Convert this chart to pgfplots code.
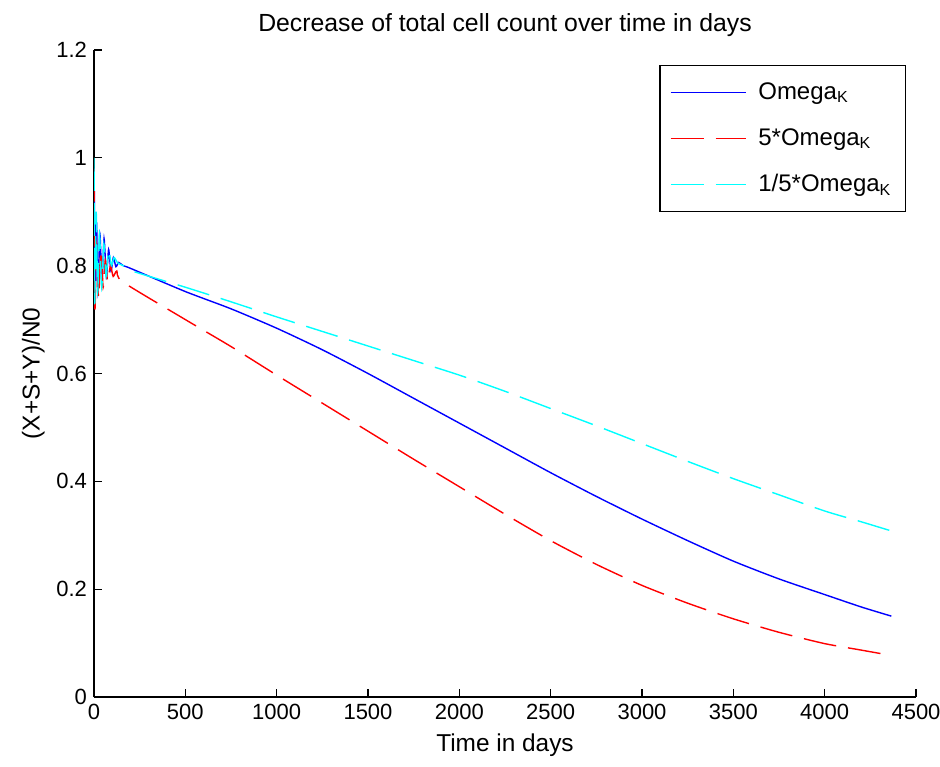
\documentclass[border=0pt]{standalone}
\usepackage{pgfplots}
\pgfplotsset{compat=1.18}
\usepackage{fontspec}
\setmainfont{Liberation Sans}
\definecolor{mblue}{rgb}{0,0,1}
\definecolor{mred}{rgb}{1,0,0}
\definecolor{mcyan}{rgb}{0,1,1}
\begin{document}
\begin{tikzpicture}
\path[use as bounding box] (-47pt,-34.5pt) rectangle (423pt,348.5pt);
\begin{axis}[
  at={(0,0)}, anchor=south west,
  scale only axis, width=411pt, height=323.5pt,
  xmin=0, xmax=4500, ymin=0, ymax=1.2,
  axis lines=left,
  axis line style={-, line width=0.6pt},
  tick style={black, line width=0.6pt},
  tick align=inside,
  major tick length=4pt,
  xtick={0,500,...,4500},
  ytick={0,0.2,...,1.2},
  scaled x ticks=false,
  /pgf/number format/1000 sep={},
  /pgf/number format/assume math mode=true,
  xticklabel style={font=\fontsize{11}{13}\selectfont},
  yticklabel style={font=\fontsize{11}{13}\selectfont},
  title={Decrease of total cell count over time in days},
  title style={font=\fontsize{12.4}{15}\selectfont, yshift=-3pt},
  xlabel={Time in days},
  ylabel={(X+S+Y)/N0},
  label style={font=\fontsize{12.2}{14}\selectfont},
  xlabel style={yshift=0pt},
  ylabel style={yshift=-1pt},
  legend style={at={(1,1)}, anchor=north east, xshift=-5pt, yshift=-7.5pt,
    line width=0.6pt,
    font=\fontsize{12}{14}\selectfont, row sep=9pt, inner xsep=5pt, inner ysep=6.5pt,
    /tikz/every odd column/.append style={column sep=4pt}},
  legend cell align=left,
  legend image code/.code={\draw[#1] plot coordinates {(0pt,0pt) (18.75pt,0pt) (37.5pt,0pt)};},
  every axis plot/.append style={smooth, tension=0.4},
]
\addplot[color=mblue, line width=0.7pt] coordinates {
(0,0.98) (3,0.90) (7,0.75) (14,0.88) (22,0.75) (32,0.86) (44,0.77) (55,0.85) (68,0.78) (80,0.83) (93,0.79) (106,0.815) (120,0.798) (135,0.806) (160,0.800) (200,0.795)
(500,0.752) (750,0.720) (1000,0.684) (1250,0.644) (1500,0.600) (1750,0.554) (2000,0.508) (2250,0.462) (2500,0.416) (2750,0.372) (3000,0.330) (3250,0.290) (3500,0.252) (3750,0.219) (4000,0.190) (4200,0.167) (4365,0.150)
};
\addlegendentry{Omega\textsubscript{K}}
\addplot[color=mred, line width=0.7pt, dash pattern=on 16.5pt off 6pt] coordinates {
(0,0.98) (5,0.72) (14,0.84) (25,0.74) (38,0.83) (50,0.76) (62,0.81) (75,0.77) (90,0.80) (105,0.78) (125,0.79) (157,0.77)
(500,0.700) (750,0.650) (1000,0.597) (1250,0.545) (1500,0.493) (1750,0.441) (2000,0.390) (2250,0.339) (2500,0.290) (2750,0.246) (3000,0.207) (3250,0.174) (3500,0.145) (3750,0.120) (4000,0.099) (4200,0.087) (4365,0.077)
};
\addlegendentry{5*Omega\textsubscript{K}}
\addplot[color=mcyan, line width=0.7pt, dash pattern=on 16.5pt off 6pt] coordinates {
(0,1.0) (4,0.73) (12,0.90) (20,0.75) (30,0.86) (42,0.76) (54,0.84) (66,0.78) (80,0.83) (95,0.80) (110,0.815) (130,0.805) (160,0.800) (219,0.789)
(500,0.760) (750,0.733) (1000,0.705) (1250,0.678) (1500,0.651) (1750,0.624) (2000,0.597) (2250,0.567) (2500,0.535) (2750,0.503) (3000,0.470) (3250,0.437) (3500,0.405) (3750,0.375) (4000,0.345) (4200,0.325) (4365,0.308)
};
\addlegendentry{1/5*Omega\textsubscript{K}}
\end{axis}
\end{tikzpicture}
\end{document}
